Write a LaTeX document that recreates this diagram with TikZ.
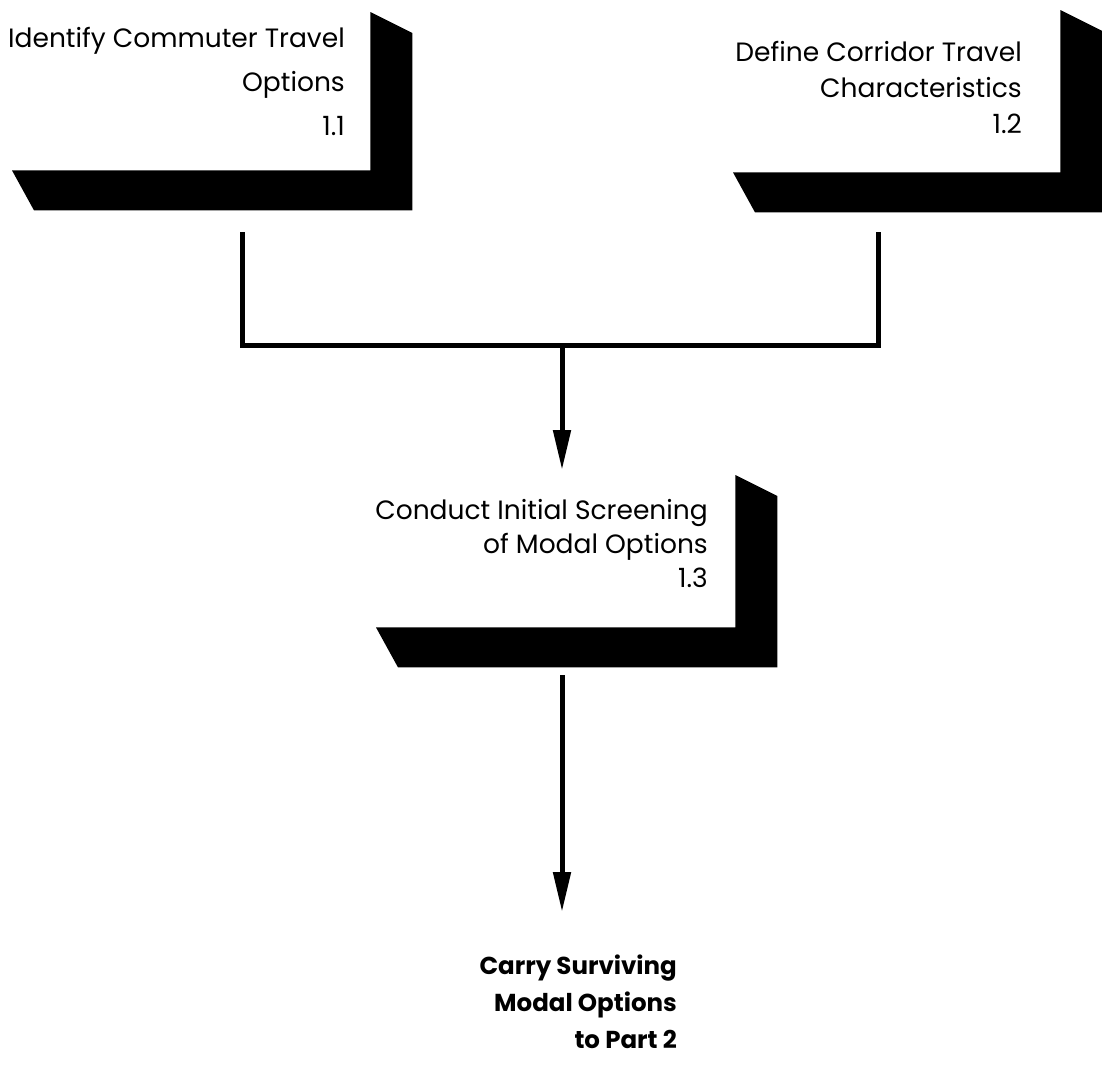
\documentclass[tikz,border=0pt]{standalone}
\usepackage{fontspec}
\setmainfont{Poppins}
\usetikzlibrary{arrows.meta,positioning}
\tikzset{
    front/.style = {
        inner sep=0,
        anchor=north west,
        },
    task/.style = {
        font=\fontsize{26.5}{44}\selectfont,
        align=right,
        inner sep=0,
        anchor=base east,
        },
    result/.style = {
        font=\bfseries\fontsize{24.5}{37}\selectfont,
        align=right,
        inner sep=0,
        anchor=base east,
        },
    link/.style = {
        draw=black,
        line width=5pt,
        },
    flow/.style = {
        link,
        -{Triangle[length=40pt,width=17pt]},
        },
}
% black drop shadow: right bar and bottom band
\newcommand{\boxshadow}[1]{
    \fill (#1.north east) -- ++(42,21) -- ([shift={(42,40)}]#1.south east)
        -- ([shift={(22,40)}]#1.south west) -- (#1.south west) -- (#1.south east) -- cycle;
}

\begin{document}
\begin{tikzpicture}[x=1pt,y=-1pt]
            \useasboundingbox (0,0) rectangle (1102,1068);
            \node[front, minimum width=358pt, minimum height=158pt] (1) at (12,12) {};
            \node[front, minimum width=327pt, minimum height=162pt] (2) at (733,10) {};
            \node[front, minimum width=359pt, minimum height=152pt] (3) at (376,475) {};
            \boxshadow{1}
            \boxshadow{2}
            \boxshadow{3}

            \node[task] (t1) at (345,135) {Identify Commuter Travel\\Options\\1.1};
            \node[task, font=\fontsize{26.5}{36}\selectfont] (t2) at (1022,133) {Define Corridor Travel\\Characteristics\\1.2};
            \node[task, font=\fontsize{26.5}{34}\selectfont] (t3) at (708,587) {Conduct Initial Screening\\of Modal Options\\1.3};
            \node[result] (carry) at (677,1048) {Carry Surviving\\Modal Options\\to Part 2};

            \coordinate (s1) at (242,232);
            \coordinate (s2) at (878,232);
            \coordinate (j) at (562,345);
            \coordinate (e3) at (562,470);
            \coordinate (s3) at (562,675);
            \coordinate (e4) at (562,912);

            \draw[link] (s1) |- (j) -| (s2);
            \draw[flow] (j) -- (e3);
            \draw[flow] (s3) -- (e4);
        \end{tikzpicture}
\end{document}
